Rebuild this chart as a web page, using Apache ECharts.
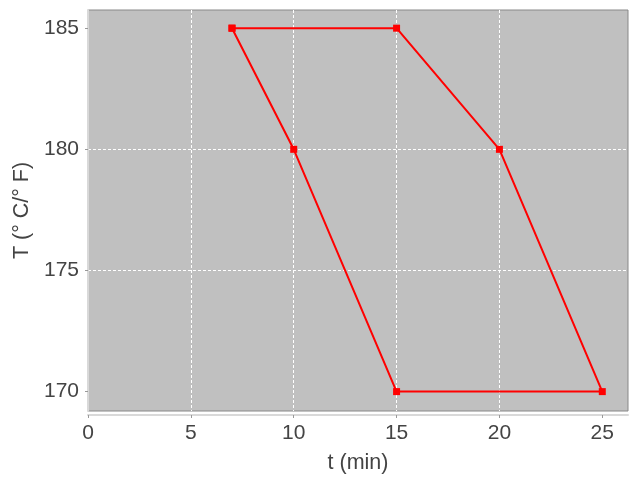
<!DOCTYPE html>
<html><head><meta charset="utf-8">
<script src="https://cdn.jsdelivr.net/npm/echarts@6/dist/echarts.min.js"></script>
<style>html,body{margin:0;padding:0;background:#fff}#c{width:640px;height:480px}</style>
</head><body><div id="c"></div>
<script>
const tValues = [7, 15, 20, 25, 15, 10, 7];
const tempValues = [185, 185, 180, 170, 170, 180, 185];
const xTicks = [0, 5, 10, 15, 20, 25];
const yTicks = [170, 175, 180, 185];
const xName = 't (min)';
const yName = 'T (° C/° F)';

const chart = echarts.init(document.getElementById('c'), null, {renderer: 'canvas'});
const font = 'Liberation Sans, Arial, sans-serif';
const axisCommon = {
  offset: 4,
  axisLine: {show: true, lineStyle: {color: '#d9d9d9', width: 2}},
  splitLine: {show: true, showMinLine: false, showMaxLine: false, lineStyle: {color: '#ffffff', type: [3, 2], width: 1}},
  nameTextStyle: {color: '#444', fontSize: 21.5, fontFamily: font}
};
const labelCommon = {color: '#444', fontSize: 21, fontFamily: font};
chart.setOption({
  animation: false,
  backgroundColor: '#ffffff',
  grid: {left: 88, right: 12, top: 10, bottom: 69, show: true, backgroundColor: '#c0c0c0', borderColor: '#888', borderWidth: 1},
  xAxis: Object.assign({}, axisCommon, {
    type: 'value', min: 0, max: 26.25, interval: 5,
    name: xName, nameLocation: 'middle', nameGap: 37,
    axisTick: {show: true, length: 3, customValues: xTicks, lineStyle: {color: '#999'}},
    axisLabel: Object.assign({}, labelCommon, {customValues: xTicks, margin: 8})
  }),
  yAxis: Object.assign({}, axisCommon, {
    type: 'value', min: 169.2, max: 185.75, splitNumber: 3,
    name: yName, nameLocation: 'middle', nameGap: 45,
    axisTick: {show: true, length: 3, customValues: yTicks, lineStyle: {color: '#999'}},
    axisLabel: Object.assign({}, labelCommon, {customValues: yTicks, margin: 5})
  }),
  series: [{
    type: 'line',
    data: tValues.map((t, i) => [t, tempValues[i]]),
    symbol: 'rect', symbolSize: 7,
    lineStyle: {color: '#ff0000', width: 2},
    itemStyle: {color: '#ff0000'}
  }]
});
</script></body></html>
